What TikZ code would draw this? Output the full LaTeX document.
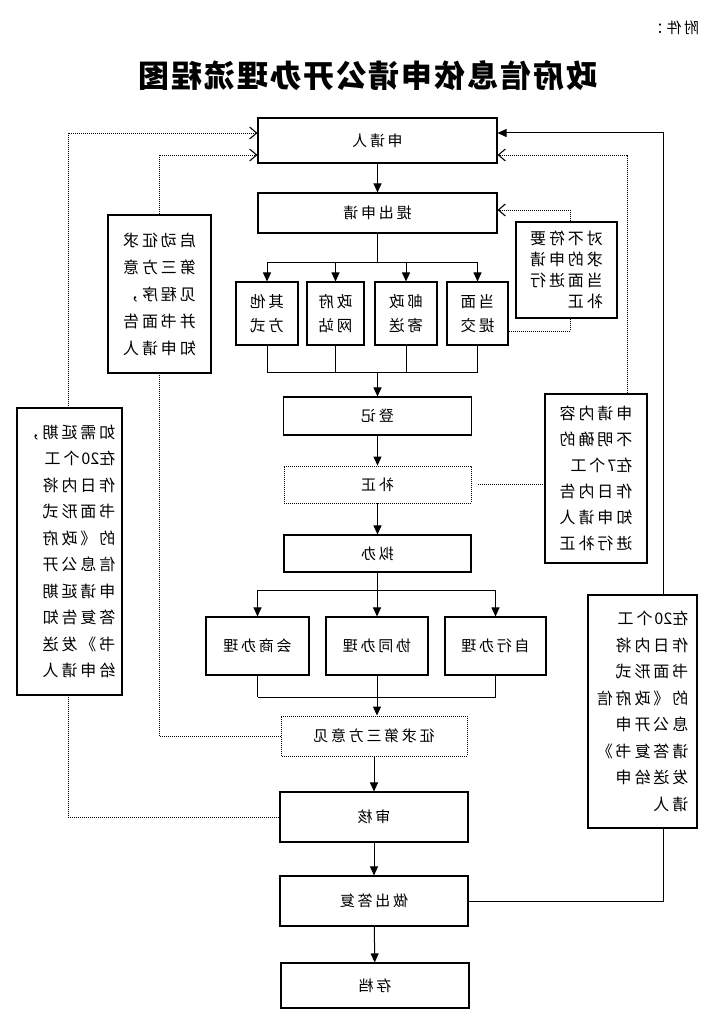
\documentclass[tikz,border=0pt]{standalone}
\usepackage{fontspec}
\setmainfont{Noto Sans CJK SC}
\newfontfamily\cjksp[LetterSpace=18]{Noto Sans CJK SC}
\newfontfamily\cjktitle[LetterSpace=6]{Noto Sans CJK SC}
\newcommand\dg[1]{{\addfontfeature{LetterSpace=0}#1}\hspace{2pt}}
\usetikzlibrary{arrows.meta,backgrounds}

\begin{document}
\begin{tikzpicture}[x=1pt,y=-1pt,
  every node/.style={xscale=-1},
  box/.style={draw, line width=1.1pt, fill=white, inner sep=0pt, align=left,
              font=\cjksp\fontsize{15}{18}\selectfont},
  dbox/.style={box, line width=0.9pt, dash pattern=on 1pt off 1pt},
  two/.style={box, font=\cjksp\fontsize{15.5}{24}\selectfont},
  side/.style={box, line width=1.1pt, font=\cjksp\fontsize{16}{#1}\selectfont},
  conn/.style={line width=1pt},
  arr/.style={conn, -{Triangle[length=9pt,width=8pt]}},
  dotline/.style={line width=0.9pt, dash pattern=on 1pt off 1pt},
  dotarr/.style={dotline, -{Straight Barb[length=7pt,width=12pt,line width=1.1pt]}}
]
\useasboundingbox (0,0) rectangle (711,1032);

% header and title
\node[font=\cjksp\fontsize{15}{15}\selectfont] (fj) at (674,28) {附件：};
\node[font=\cjktitle\bfseries\fontsize{31}{31}\selectfont] (title) at (368,76) {政府信息依申请公开办理流程图};

% main column
\node[box, minimum width=239pt, minimum height=45pt] (sq) at (377.5,140.5) {申请人};
\node[box, minimum width=239pt, minimum height=40pt] (tc) at (377.5,213) {提出申请};
\node[two, minimum width=62pt, minimum height=63pt] (b1) at (267,313.5) {其他\\方式};
\node[two, minimum width=57pt, minimum height=63pt] (b2) at (335.5,313.5) {政府\\网站};
\node[two, minimum width=62pt, minimum height=63pt] (b3) at (406,313.5) {邮政\\寄送};
\node[two, minimum width=61pt, minimum height=63pt] (b4) at (477.5,313.5) {当面\\提交};
\node[box, minimum width=188pt, minimum height=38pt] (dj) at (377.5,416) {登记};
\node[dbox, minimum width=187pt, minimum height=37pt] (bz) at (377.5,484.5) {补正};
\node[box, minimum width=187pt, minimum height=37pt] (nb) at (377.5,553.5) {拟办};
\node[box, minimum width=103pt, minimum height=58pt] (c1) at (257.5,646) {会商办理};
\node[box, minimum width=102pt, minimum height=58pt] (c2) at (377,646) {协同办理};
\node[box, minimum width=101pt, minimum height=58pt] (c3) at (495.5,646) {自行办理};
\node[dbox, minimum width=186pt, minimum height=40pt] (zq) at (374,736) {征求第三方意见};
\node[box, minimum width=188pt, minimum height=50pt] (sh) at (374,817) {审核};
\node[box, minimum width=188pt, minimum height=50pt] (zc) at (374,901) {做出答复};
\node[box, minimum width=188pt, minimum height=45pt] (cd) at (375,985.5) {存档};

% side boxes
\node[side=21, minimum width=101pt, minimum height=96pt] (s1) at (566.5,270)
  {对不符要\\求的申请\\当面进行\\补正};
\node[side=27, minimum width=103pt, minimum height=158pt] (s2) at (159.5,294)
  {启动征求\\第三方意\\见程序，\\并书面告\\知申请人};
\node[side=26.5, minimum width=105pt, minimum height=287pt] (s3) at (69.5,551.5)
  {如需延期，\\在\dg{20}个工\\作日内将\\书面形式\\的《政府\\信息公开\\申请延期\\答复告知\\书》发送\\给申请人};
\node[side=26, minimum width=102pt, minimum height=169pt] (s4) at (596,478.5)
  {申请内容\\不明确的\\在\dg{7}个工\\作日内告\\知申请人\\进行补正};
\node[side=26.5, minimum width=109pt, minimum height=233pt] (s5) at (642.5,711.5)
  {在\dg{20}个工\\作日内将\\书面形式\\的《政府信\\息公开申\\请答复书》\\发送给申\\请人};

% helper coordinates
\coordinate (j1) at (377.5,262);
\coordinate (j2) at (377.5,372);
\coordinate (j3) at (377.5,590);
\coordinate (j4) at (377,697);
\coordinate (L1) at (68,133);
\coordinate (M1) at (159,155);
\coordinate (R1) at (627,155);
\coordinate (T1) at (570,210);
\coordinate (T2) at (570,331);
\coordinate (S1) at (663,133);

\begin{pgfonlayer}{background}
\draw[arr] (sq) -- (tc);
\draw[conn] (tc) -- (j1);
\draw[conn] (b1 |- j1) -- (b4 |- j1);
\foreach \bx in {b1,b2,b3,b4} \draw[arr] (\bx |- j1) -- (\bx);
\foreach \bx in {b1,b2,b3,b4} \draw[conn] (\bx) -- (\bx |- j2);
\draw[conn] (b1 |- j2) -- (b4 |- j2);
\draw[arr] (j2) -- (dj);
\draw[arr] (dj) -- (bz);
\draw[arr] (bz) -- (nb);
\draw[conn] (nb) -- (j3);
\draw[conn] (c1 |- j3) -- (c3 |- j3);
\foreach \bx in {c1,c2,c3} \draw[arr] (\bx |- j3) -- (\bx);
\draw[conn] (c1) -- (c1 |- j4);
\draw[conn] (c3) -- (c3 |- j4);
\draw[conn] (c1 |- j4) -- (c3 |- j4);
\draw[arr] (c2) -- (c2 |- zq.north);
\draw[arr] (zq) -- (sh);
\draw[arr] (sh) -- (zc);
\draw[arr] (zc) -- (cd);

% dotted feedback lines
\draw[dotarr] (sh.east) -- (sh.east -| L1) -- (L1) -- (L1 -| sq.east);
\draw[dotarr] (zq.east) -- (zq.east -| M1) -- (M1) -- (M1 -| sq.east);
\draw[dotarr] (s4.north -| R1) -- (R1) -- (R1 -| sq.west);
\draw[dotline] ([xshift=7pt]bz.west) -- (bz.west -| s4.east);
\draw[dotline] (T2 -| b4.west) -- (T2) -- (s1.south -| T2);
\draw[dotarr] (s1.north -| T1) -- (T1) -- (T1 -| tc.west);

% solid reply line
\draw[arr] (zc.west) -- (zc.west -| S1) -- (S1) -- (S1 -| sq.west);
\end{pgfonlayer}
\end{tikzpicture}
\end{document}
